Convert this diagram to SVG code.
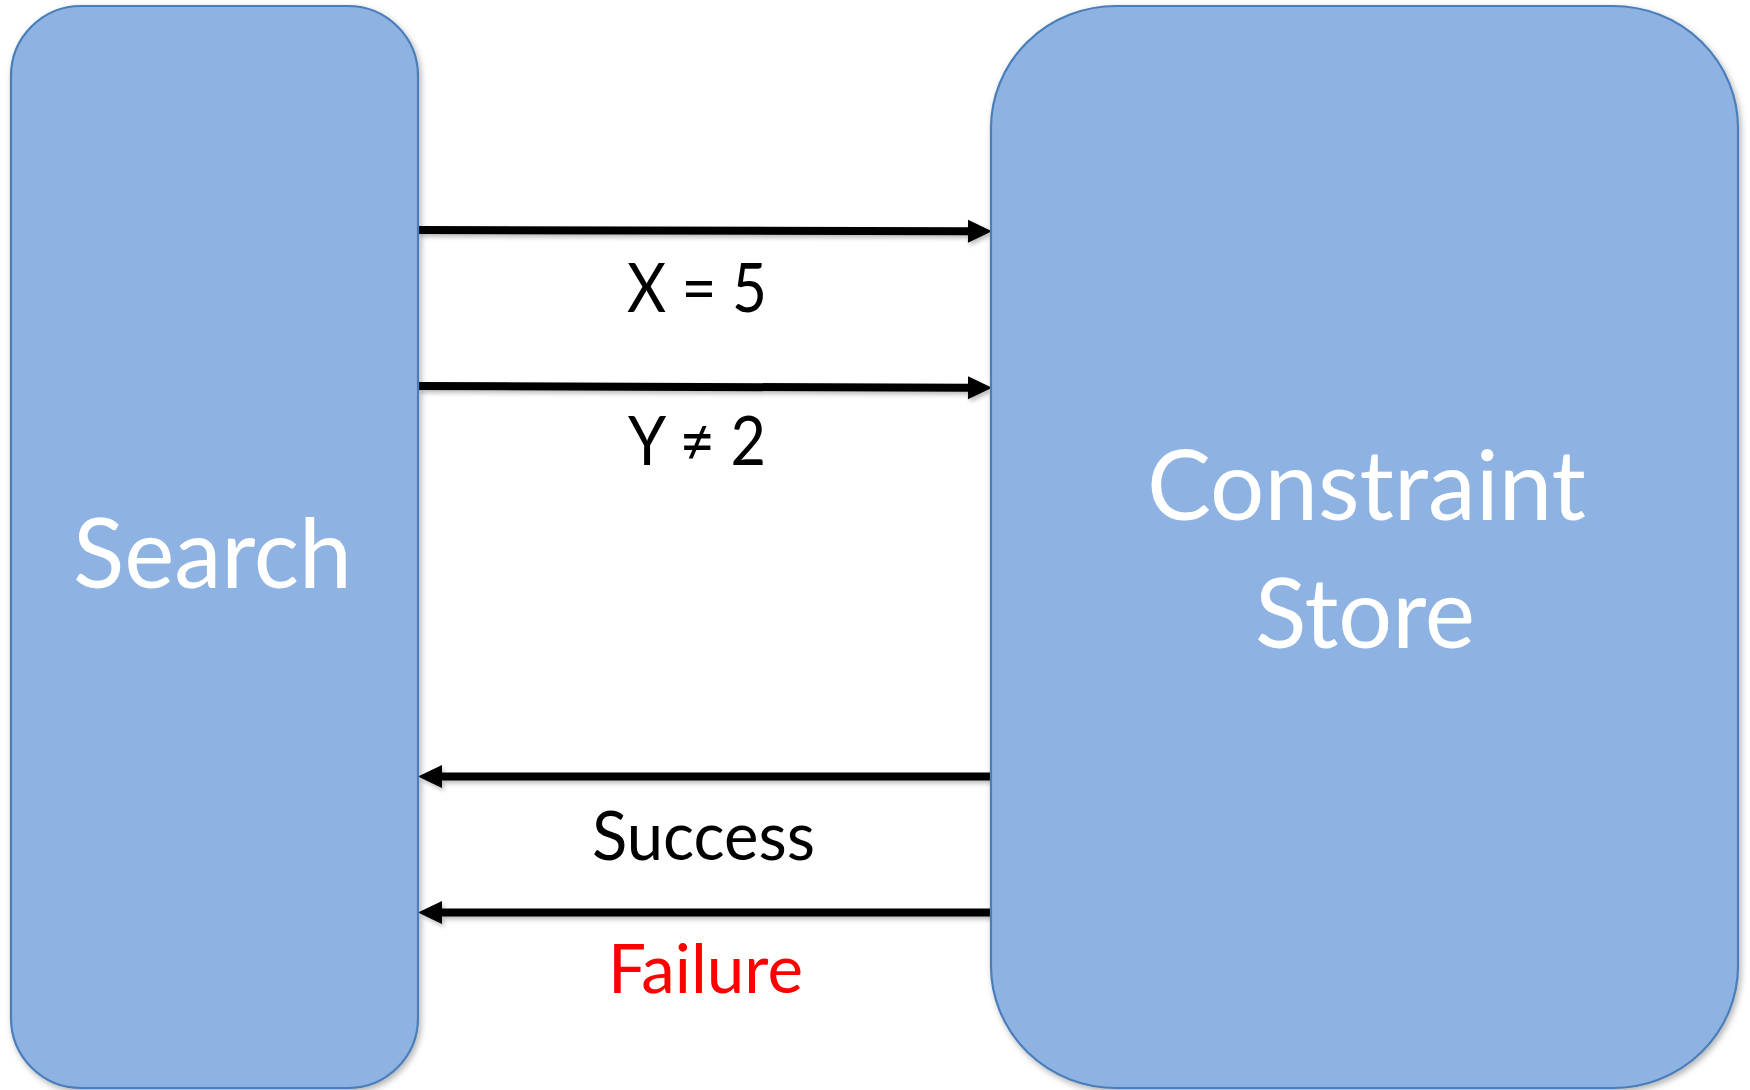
<svg xmlns="http://www.w3.org/2000/svg" width="1750" height="1090" viewBox="0 0 1750 1090">
<style>
.box{fill:#8EB3E2;stroke:#4A7EBB;stroke-width:2.2;filter:url(#sh)}
.big{font-family:Lato,"Open Sans","DejaVu Sans",sans-serif;font-size:96px;fill:#FFFFFF;text-anchor:middle}
.lbl{font-family:Lato,"Open Sans","DejaVu Sans",sans-serif;font-size:68px;fill:#000000;text-anchor:middle}
.fail{fill:#FF0000}
.arr{fill:none;stroke:#000000;stroke-width:8;marker-end:url(#ah)}
</style>
<defs>
<filter id="sh" x="-10%" y="-10%" width="120%" height="120%">
<feDropShadow dx="2" dy="3" stdDeviation="3" flood-color="#000" flood-opacity="0.3"/>
</filter>
<filter id="sh2" filterUnits="userSpaceOnUse" x="0" y="0" width="1750" height="1090">
<feDropShadow dx="2" dy="3" stdDeviation="2" flood-color="#000" flood-opacity="0.25"/>
</filter>
<marker id="ah" markerUnits="userSpaceOnUse" markerWidth="26" markerHeight="24" refX="2" refY="11.5" orient="auto" overflow="visible">
<path d="M0,0 L24,11.5 L0,23 Z" fill="#000000"/>
</marker>
</defs>
<rect width="1750" height="1090" fill="#FFFFFF"/>
<g id="connectors" filter="url(#sh2)">
<path class="arr" d="M418,230 L970,231.3"/>
<path class="arr" d="M418,386 L970,387.8"/>
<path class="arr" d="M991,776.5 L440,776.5"/>
<path class="arr" d="M991,912.5 L440,912.5"/>
</g>
<g id="node-search">
<rect class="box" x="11" y="6" width="407" height="1082" rx="70" ry="70"/>
<text class="big" x="212.5" y="588" textLength="279" lengthAdjust="spacingAndGlyphs">Search</text>
</g>
<g id="node-store">
<rect class="box" x="991" y="6" width="747" height="1082" rx="125" ry="122"/>
<text class="big" x="1366.5" y="520" textLength="439" lengthAdjust="spacingAndGlyphs">Constraint</text>
<text class="big" x="1365" y="648" textLength="220" lengthAdjust="spacingAndGlyphs">Store</text>
</g>
<g id="labels">
<text class="lbl" x="697" y="312" textLength="140" lengthAdjust="spacingAndGlyphs">X = 5</text>
<text class="lbl" x="697" y="465" textLength="138" lengthAdjust="spacingAndGlyphs">Y ≠ 2</text>
<text class="lbl" x="703.5" y="860" textLength="223" lengthAdjust="spacingAndGlyphs">Success</text>
<text class="lbl fail" x="705.5" y="993" textLength="195" lengthAdjust="spacingAndGlyphs">Failure</text>
</g>
</svg>
